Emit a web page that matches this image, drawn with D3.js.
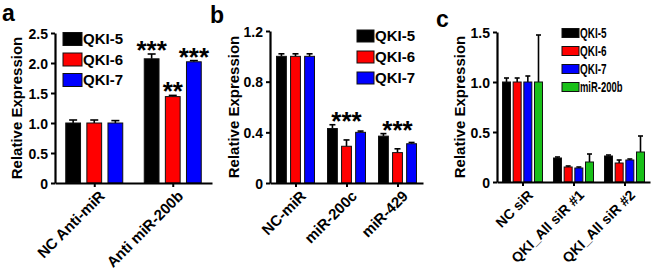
<!DOCTYPE html>
<html lang="en">
<head>
  <meta charset="UTF-8">
  <title>QKI relative expression</title>
  <script src="https://cdn.jsdelivr.net/npm/d3@7/dist/d3.min.js"></script>
  <style>
    * { margin: 0; padding: 0; }
    body { background: #fff; }
    svg { display: block; font-family: "Liberation Sans", Arial, sans-serif; font-weight: bold; }
  </style>
</head>
<body>
  <div id="chart"></div>
  <script>
  // panel a
  var seriesA = ["QKI-5", "QKI-6", "QKI-7"];
  var catsA = ["NC Anti-miR", "Anti miR-200b"];
  var valsA = [[1.00, 1.00, 1.00], [2.07, 1.44, 2.02]];
  var errsA = [[0.05, 0.05, 0.04], [0.08, 0.02, 0.02]];
  var ticksA = [0, 0.5, 1.0, 1.5, 2.0, 2.5];

  // panel b
  var seriesB = ["QKI-5", "QKI-6", "QKI-7"];
  var catsB = ["NC-miR", "miR-200c", "miR-429"];
  var valsB = [[1.00, 1.00, 1.00], [0.43, 0.29, 0.40], [0.37, 0.24, 0.31]];
  var errsB = [[0.02, 0.02, 0.02], [0.03, 0.05, 0.01], [0.02, 0.03, 0.01]];
  var ticksB = [0, 0.4, 0.8, 1.2];

  // panel c
  var seriesC = ["QKI-5", "QKI-6", "QKI-7", "miR-200b"];
  var catsC = ["NC siR", "QKI_All siR #1", "QKI_All siR #2"];
  var valsC = [[1.00, 1.00, 1.00, 1.00], [0.24, 0.15, 0.14, 0.20], [0.26, 0.19, 0.22, 0.30]];
  var errsC = [[0.04, 0.04, 0.06, 0.47], [0.01, 0.01, 0.01, 0.08], [0.01, 0.03, 0.01, 0.16]];
  var ticksC = [0, 0.5, 1.0, 1.5];

  var colors = {"QKI-5": "#000000", "QKI-6": "#ff0000", "QKI-7": "#0000ff", "miR-200b": "#19c019"};

  var svg = d3.select("#chart").append("svg")
      .attr("width", 654)
      .attr("height", 278);

  function drawPanel(p) {
    var g = svg.append("g");
    var y = d3.scaleLinear().domain([0, p.ticks[p.ticks.length - 1]]).range([p.y0, p.y1]);
    var x = d3.scalePoint().domain(p.cats).range([p.x0, p.x1]).padding(0.5);
    var inner = d3.scaleBand().domain(p.series).range([-p.span / 2, p.span / 2]).paddingInner(p.pad);

    // bars
    p.cats.forEach(function (c, ci) {
      var grp = g.append("g").attr("transform", "translate(" + x(c) + ",0)");
      p.series.forEach(function (s, si) {
        var v = p.vals[ci][si], e = p.errs[ci][si];
        var bx = inner(s), bw = inner.bandwidth(), cx = bx + bw / 2;
        grp.append("line")
          .attr("x1", cx).attr("x2", cx)
          .attr("y1", y(v)).attr("y2", y(v + e))
          .attr("stroke", "#000").attr("stroke-width", 1.6);
        grp.append("line")
          .attr("x1", cx - p.cap).attr("x2", cx + p.cap)
          .attr("y1", y(v + e)).attr("y2", y(v + e))
          .attr("stroke", "#000").attr("stroke-width", 1.6);
        grp.append("rect")
          .attr("x", bx).attr("width", bw)
          .attr("y", y(v)).attr("height", y(0) - y(v))
          .attr("fill", colors[s])
          .attr("stroke", "#111").attr("stroke-width", 1);
      });
    });

    // stars
    p.stars.forEach(function (st) {
      var cx = x(p.cats[st.cat]) + (st.series == null ? 0 : inner(p.series[st.series]) + inner.bandwidth() / 2);
      var top = d3.max(p.series.map(function (s, si) {
        return (st.series == null || st.series === si) ? p.vals[st.cat][si] + p.errs[st.cat][si] : 0;
      }));
      g.append("text")
        .attr("x", cx)
        .attr("y", y(top) + 5)
        .attr("text-anchor", "middle")
        .style("font-size", "26px")
        .text(st.text);
    });

    // y axis
    var yAxis = g.append("g")
      .attr("transform", "translate(" + p.x0 + ",0)")
      .call(d3.axisLeft(y).tickValues(p.ticks).tickSize(4).tickSizeOuter(0)
        .tickFormat(function (d) { return d === 0 ? "0" : d3.format(".1f")(d); }));
    yAxis.selectAll("text").style("font-size", "14px").style("font-family", "inherit").attr("fill", "#000").attr("dy", "0.36em");
    yAxis.selectAll("line").attr("stroke-width", 2);
    yAxis.select(".domain").attr("stroke-width", 2.2);

    // x axis
    var xAxis = g.append("g")
      .attr("transform", "translate(0," + p.y0 + ")")
      .call(d3.axisBottom(x).tickSize(4).tickSizeOuter(0).tickFormat(""));
    xAxis.selectAll("line").attr("stroke-width", 2);
    xAxis.select(".domain").attr("stroke-width", 2.2);
    xAxis.selectAll(".tick").append("text")
      .attr("transform", "translate(11,14) rotate(-45)")
      .attr("text-anchor", "end")
      .attr("fill", "#000")
      .style("font-size", p.labelSize + "px")
      .style("font-family", "inherit")
      .text(function (d) { return d; });

    // y title
    g.append("text")
      .attr("transform", "translate(" + p.titleX + "," + (p.y0 + p.y1) / 2 + ") rotate(-90)")
      .attr("text-anchor", "middle")
      .style("font-size", "15px")
      .text("Relative Expression");

    // panel letter
    g.append("text")
      .attr("x", p.letterX).attr("y", p.letterY)
      .style("font-size", "23px")
      .text(p.letter);

    // legend
    var leg = g.append("g").attr("transform", "translate(" + p.legX + "," + p.legY + ")");
    p.series.forEach(function (s, i) {
      var row = leg.append("g").attr("transform", "translate(0," + i * p.legStep + ")");
      row.append("rect")
        .attr("x", 0).attr("y", -p.swH / 2)
        .attr("width", p.swW).attr("height", p.swH)
        .attr("fill", colors[s]).attr("stroke", "#111").attr("stroke-width", 1);
      var t = row.append("text")
        .attr("x", p.swW + 1).attr("y", 0).attr("dy", "0.36em")
        .style("font-size", p.legSize + "px")
        .text(s);
      if (p.legSquash) t.attr("textLength", s.length * p.legSquash).attr("lengthAdjust", "spacingAndGlyphs");
    });
  }

  drawPanel({
    series: seriesA, cats: catsA, vals: valsA, errs: errsA, ticks: ticksA,
    x0: 55, x1: 212, y0: 183, y1: 33, span: 57, pad: 0.3, cap: 4, labelSize: 15,
    stars: [{cat: 1, series: 0, text: "***"}, {cat: 1, series: 1, text: "**"}, {cat: 1, series: 2, text: "***"}],
    titleX: 22, letter: "a", letterX: 2, letterY: 21,
    legX: 63, legY: 39, legStep: 20.5, swW: 19, swH: 13, legSize: 15
  });

  drawPanel({
    series: seriesB, cats: catsB, vals: valsB, errs: errsB, ticks: ticksB,
    x0: 270, x1: 423, y0: 183, y1: 31, span: 38, pad: 0.3, cap: 3, labelSize: 15,
    stars: [{cat: 1, series: null, text: "***"}, {cat: 2, series: null, text: "***"}],
    titleX: 239, letter: "b", letterX: 210, letterY: 23,
    legX: 357, legY: 36, legStep: 21, swW: 17, swH: 12, legSize: 15
  });

  drawPanel({
    series: seriesC, cats: catsC, vals: valsC, errs: errsC, ticks: ticksC,
    x0: 497, x1: 650, y0: 182, y1: 32, span: 40, pad: 0.25, cap: 2.5, labelSize: 14,
    stars: [],
    titleX: 465, letter: "c", letterX: 436, letterY: 27,
    legX: 562, legY: 33, legStep: 18, swW: 17, swH: 9, legSize: 14, legSquash: 5.3
  });
  </script>
</body>
</html>
